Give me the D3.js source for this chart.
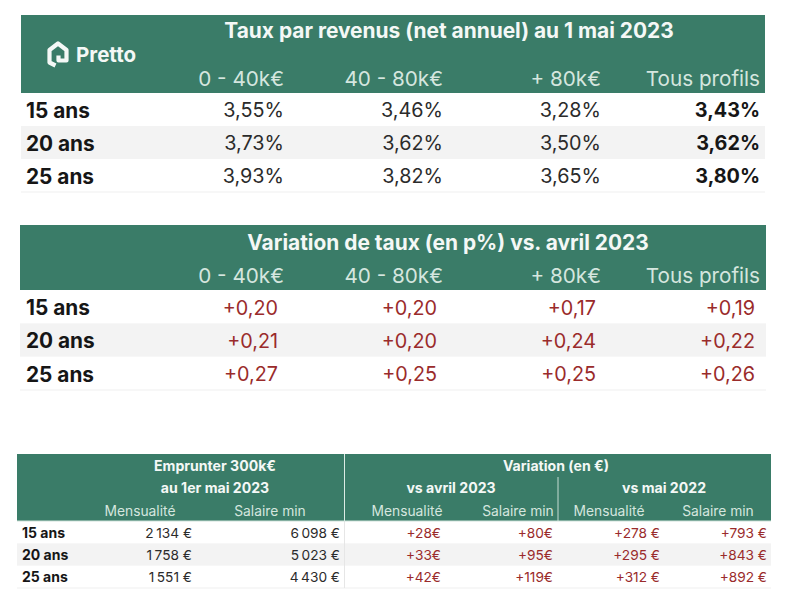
<!DOCTYPE html>
<html>
<head>
<meta charset="utf-8">
<script src="https://cdn.jsdelivr.net/npm/d3@7"></script>
<style>
	html, body { margin: 0; padding: 0; background: #fff; }
	svg { display: block; }
	text { font-family: Inter, "Noto Sans", sans-serif; }
</style>
</head>
<body>
<div id="chart"></div>
<script>
let durations	= ["15 ans", "20 ans", "25 ans"];
let incomes		= ["0 - 40k€", "40 - 80k€", "+ 80k€", "Tous profils"];

let rates_low	= [3.55, 3.73, 3.93];
let rates_mid	= [3.46, 3.62, 3.82];
let rates_high	= [3.28, 3.50, 3.65];
let rates_all	= [3.43, 3.62, 3.80];

let delta_low	= [0.20, 0.21, 0.27];
let delta_mid	= [0.20, 0.20, 0.25];
let delta_high	= [0.17, 0.24, 0.25];
let delta_all	= [0.19, 0.22, 0.26];

let monthly		= [2134, 1758, 1551];
let salary		= [6098, 5023, 4430];
let monthly_apr	= [28, 33, 42];
let salary_apr	= [80, 95, 119];
let monthly_may	= [278, 295, 312];
let salary_may	= [793, 843, 892];

let green	= "#3a7c68";
let pale	= "#d5e6df";
let red		= "#9a2b2b";
let ink		= "#161616";
let value	= "#2b2b2b";

let fr		= d3.formatLocale({ decimal: ",", thousands: "\u2009", grouping: [3], currency: ["", "€"] });
let rate	= (o) => fr.format(".2f")(o) + "%";
let delta	= (o) => fr.format("+.2f")(o);
let euro	= (o) => fr.format(",d")(o) + " €";
let plusTight	= (o) => "+" + o + "€";
let plusEuro	= (o) => "+" + o + " €";

let svg = d3.select("#chart").append("svg").attr("width", 797).attr("height", 609);

function drawTable(t) {
	let y = d3.scaleBand().domain(durations).range(t.rows);
	let x = d3.scaleOrdinal().domain(d3.range(t.columns.length)).range(t.edges);

	let g = svg.append("g");

	g.append("rect")
		.attr("x", t.left).attr("y", t.top)
		.attr("width", t.right - t.left).attr("height", t.rows[0] - t.top)
		.attr("fill", green);

	// stripe on the middle row, thin line under the last one
	g.append("rect")
		.attr("x", t.left).attr("y", y(durations[1]))
		.attr("width", t.right - t.left).attr("height", y.bandwidth())
		.attr("fill", "#f3f3f3");
	g.append("line")
		.attr("x1", t.left).attr("x2", t.right)
		.attr("y1", t.rows[1]).attr("y2", t.rows[1])
		.attr("stroke", "#efefef");

	g.selectAll(".row-label")
		.data(durations)
		.enter().append("text")
			.attr("class", "row-label")
			.attr("x", t.left + t.labelPad)
			.attr("y", (o) => (y(o) + y.bandwidth() / 2))
			.attr("dy", "0.4em")
			.attr("font-size", t.labelSize)
			.attr("font-weight", 700)
			.attr("fill", ink)
			.text((o) => o);

	t.columns.forEach((col, i) => {
		g.selectAll(".col-" + i)
			.data(col.values)
			.enter().append("text")
				.attr("class", "col-" + i)
				.attr("x", x(i))
				.attr("y", (o, j) => (y(durations[j]) + y.bandwidth() / 2))
				.attr("dy", "0.4em")
				.attr("text-anchor", "end")
				.attr("font-size", t.valueSize)
				.attr("font-weight", col.bold ? 700 : 400)
				.attr("fill", col.color)
				.text(col.format);
	});

	g.selectAll(".head")
		.data(t.heads)
		.enter().append("text")
			.attr("class", "head")
			.attr("x", (o) => o.x)
			.attr("y", (o) => o.y)
			.attr("text-anchor", (o) => o.anchor)
			.attr("font-size", (o) => o.size)
			.attr("font-weight", (o) => o.weight)
			.attr("fill", (o) => o.color)
			.text((o) => o.text);
}

function subHeads(names, xs, y, size, anchor) {
	return names.map((o, i) => ({ text: o, x: xs[i], y: y, size: size, weight: 400, color: pale, anchor: anchor }));
}

function titleHead(text, x, y, size) {
	return { text: text, x: x, y: y, size: size, weight: 700, color: "#f4f8f6", anchor: "middle" };
}

drawTable({
	left: 21, right: 765, top: 15, rows: [93, 192], labelPad: 5, labelSize: 20.8, valueSize: 19.8,
	edges: [284, 443, 601, 760],
	columns: [
		{ values: rates_low, format: rate, color: value },
		{ values: rates_mid, format: rate, color: value },
		{ values: rates_high, format: rate, color: value },
		{ values: rates_all, format: rate, color: ink, bold: true }
	],
	heads: [titleHead("Taux par revenus (net annuel) au 1 mai 2023", 449, 38, 20.9)]
		.concat(subHeads(incomes, [284, 443, 601, 760], 86, 20.7, "end"))
});

drawTable({
	left: 20, right: 766, top: 225, rows: [290, 390], labelPad: 6, labelSize: 20.8, valueSize: 19.8,
	edges: [278, 437, 596, 755],
	columns: [
		{ values: delta_low, format: delta, color: red },
		{ values: delta_mid, format: delta, color: red },
		{ values: delta_high, format: delta, color: red },
		{ values: delta_all, format: delta, color: red }
	],
	heads: [titleHead("Variation de taux (en p%) vs. avril 2023", 448, 250, 20.9)]
		.concat(subHeads(incomes, [284, 443, 601, 760], 283, 20.7, "end"))
});

let sub_names = ["Mensualité", "Salaire min"];
drawTable({
	left: 17, right: 771, top: 454, rows: [521, 588], labelPad: 5, labelSize: 14, valueSize: 13.7,
	edges: [192, 340, 441, 553, 660, 767],
	columns: [
		{ values: monthly, format: euro, color: value },
		{ values: salary, format: euro, color: value },
		{ values: monthly_apr, format: plusTight, color: red },
		{ values: salary_apr, format: plusTight, color: red },
		{ values: monthly_may, format: plusEuro, color: red },
		{ values: salary_may, format: plusEuro, color: red }
	],
	heads: [
		titleHead("Emprunter 300k€", 215, 471, 14.1),
		titleHead("au 1er mai 2023", 215, 493, 14.1),
		titleHead("Variation (en €)", 556, 471, 14.1),
		titleHead("vs avril 2023", 451, 493, 14.1),
		titleHead("vs mai 2022", 664, 493, 14.1)
	].concat(subHeads(sub_names.concat(sub_names, sub_names), [140, 270, 407, 518, 609, 718], 516, 13.8, "middle"))
});

// separators of the bottom table
svg.append("line").attr("x1", 344.5).attr("x2", 344.5).attr("y1", 454).attr("y2", 521).attr("stroke", "#dcebe5");
svg.append("line").attr("x1", 344.5).attr("x2", 344.5).attr("y1", 521).attr("y2", 588).attr("stroke", "#e6e6e6");
svg.append("line").attr("x1", 558).attr("x2", 558).attr("y1", 477).attr("y2", 521).attr("stroke", "#c5dcd3");
svg.append("line").attr("x1", 17).attr("x2", 771).attr("y1", 521).attr("y2", 521).attr("stroke", "#cfe2da");

// Pretto logo
svg.append("path")
	.attr("d", "M55.5 65.5 L49.5 62.5 V50 L58 43.5 L66.5 50 V60.5 H58.5 V55.5")
	.attr("fill", "none")
	.attr("stroke", "#f4f8f6")
	.attr("stroke-width", 4.2)
	.attr("stroke-linejoin", "round");
svg.append("text")
	.attr("x", 76).attr("y", 61.5)
	.attr("font-size", 20.5).attr("font-weight", 700)
	.attr("fill", "#f4f8f6")
	.text("Pretto");
</script>
</body>
</html>
